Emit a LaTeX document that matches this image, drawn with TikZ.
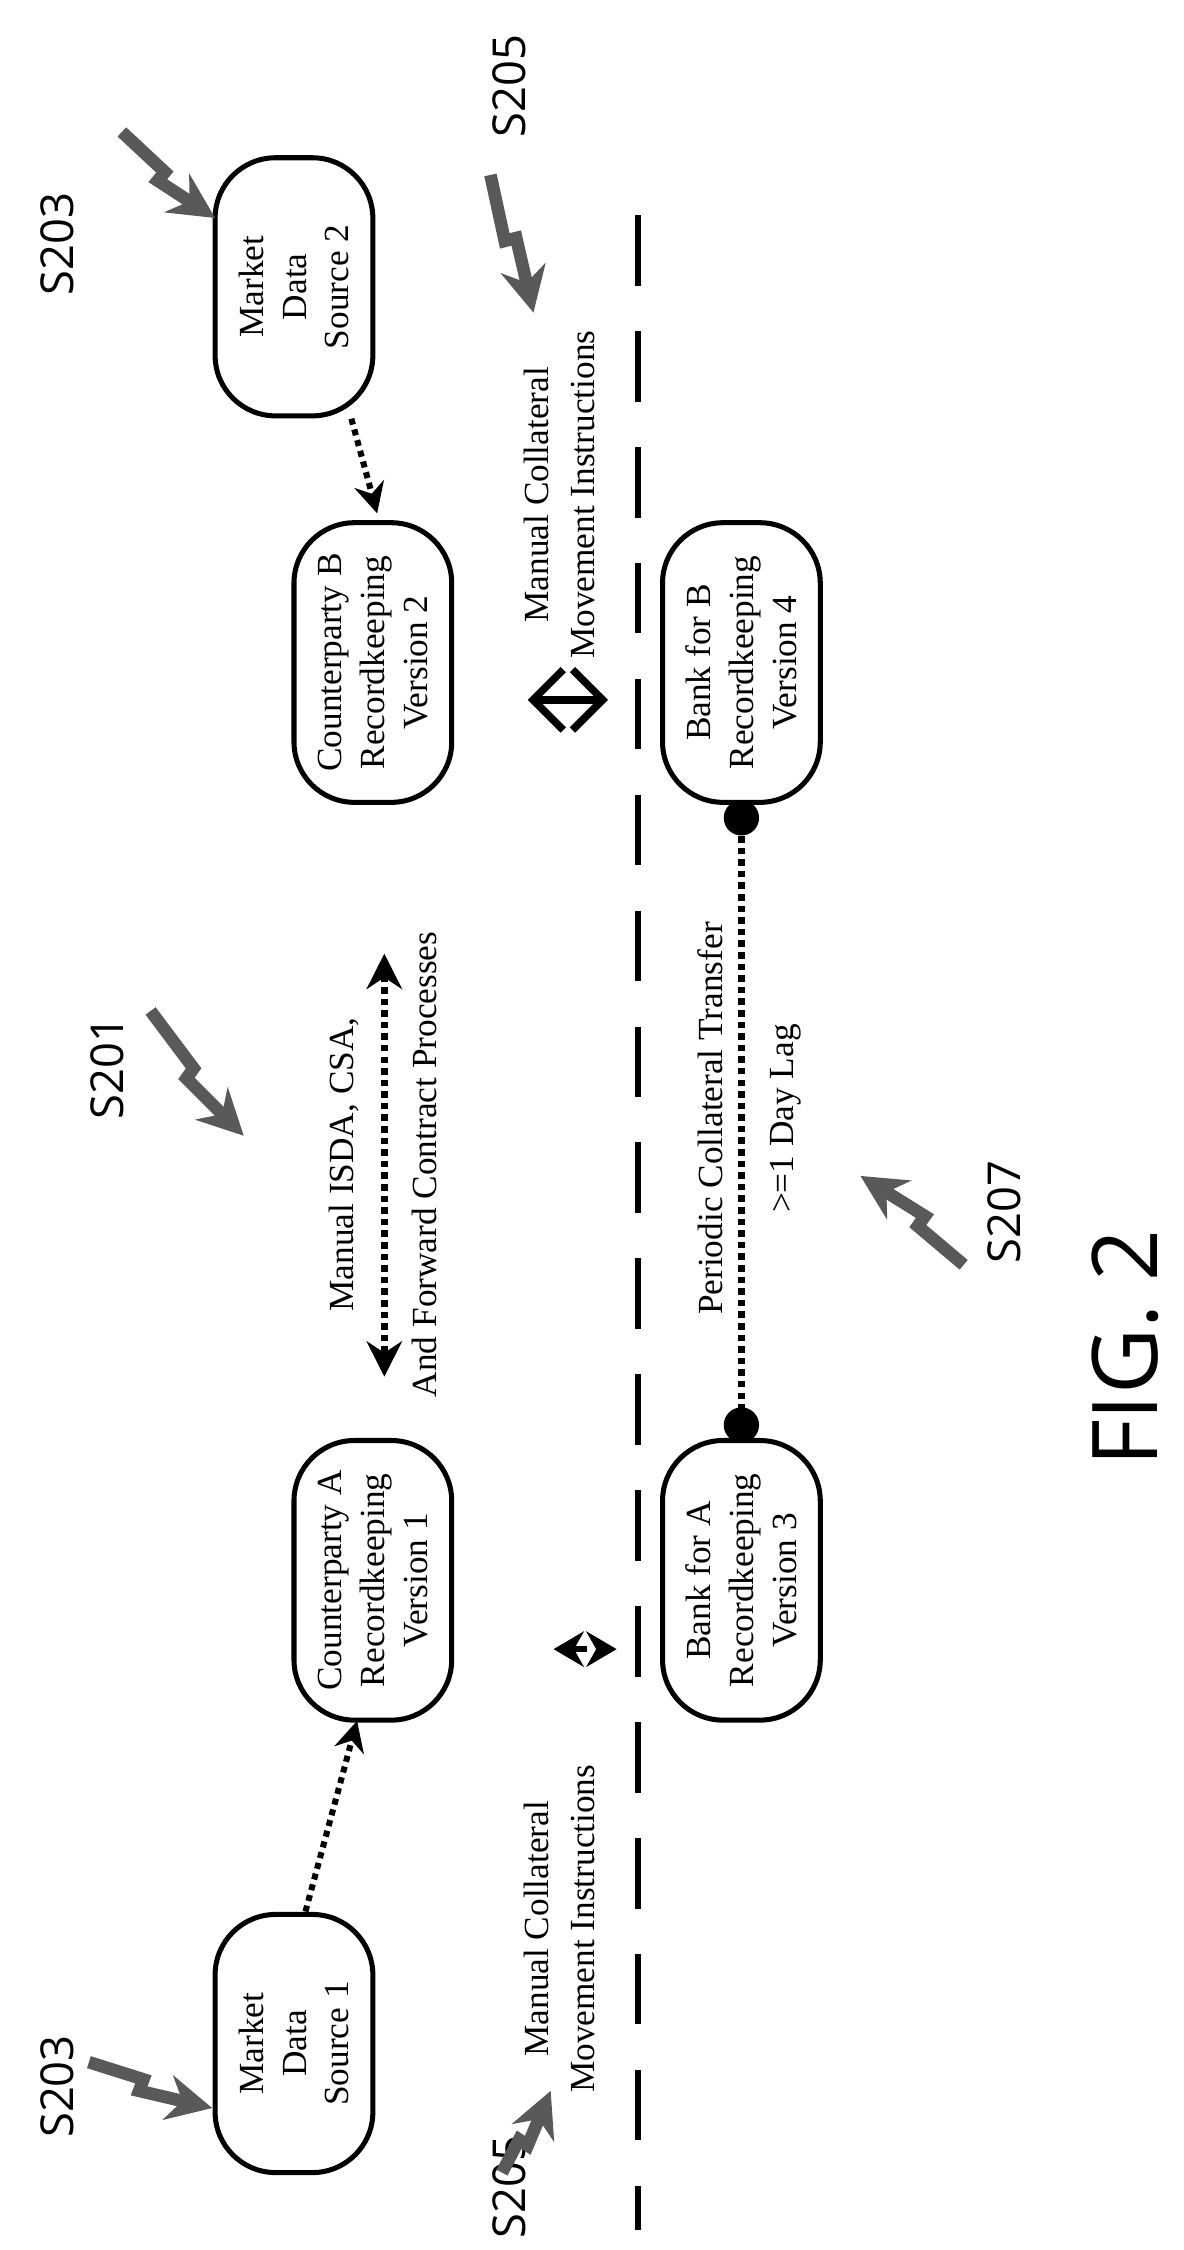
\documentclass[tikz,border=0pt]{standalone}
\usepackage{fontspec}
\setmainfont{Liberation Serif}
\setsansfont{Open Sans}
\usetikzlibrary{arrows,arrows.meta}
\begin{document}
\begin{tikzpicture}[x=0.1mm, y=-0.1mm, >=Stealth, semithick,
    box/.style={draw, rounded corners=12pt, rotate=90, align=center, line width=1pt,
      minimum width=19.5mm, minimum height=11mm, font=\fontsize{7}{8.5}\selectfont},
    mds/.style={box, minimum width=18mm},
    lbl/.style={rotate=90, align=center, font=\fontsize{7}{9}\selectfont},
    ref/.style={rotate=90, font=\sffamily\fontsize{9}{10}\selectfont},
    zap/.style={->, gray!70!black, line width=2.5pt, >={Stealth[length=9pt,width=9pt]}},
    dotarrow/.style={->, densely dotted, line width=1.2pt, >={Stealth[length=6pt,width=6pt]}}]
\useasboundingbox (0,0) rectangle (825,1569);
\draw[dashed, line width=1.3pt, dash pattern=on 14pt off 9pt] (445,150) -- (445,1555);
				\node[mds] (MDS1) at (205,1425) {Market\\Data\\Source 1};
				\node[box] (CPA)  at (260,1102) {Counterparty A\\Recordkeeping\\Version 1};
				\node[box] (BKA)  at (517,1102) {Bank for A\\Recordkeeping\\Version 3};
				\node[box] (BKB)  at (517,462)  {Bank for B\\Recordkeeping\\Version 4};
				\node[box] (CPB)  at (260,462)  {Counterparty B\\Recordkeeping\\Version 2};
				\node[mds] (MDS2) at (205,200)  {Market\\Data\\Source 2};

				\node[lbl] (ISDA1) at (240,812) {Manual ISDA, CSA,};
				\node[lbl] (ISDA2) at (296,812) {And Forward Contract Processes};
				\node[lbl] (MCL)  at (390,1345) {Manual Collateral\\Movement Instructions};
				\node[lbl] (MCR)  at (390,345)  {Manual Collateral\\Movement Instructions};
				\node[lbl] (PCT)  at (495,780) {Periodic Collateral Transfer};
				\node[lbl] (LAG)  at (548,780) {>=1 Day Lag};

				\node[ref] (S201) at (75,745) {S201};
				\node[ref] (S203a) at (40,170) {S203};
				\node[ref] (S203b) at (40,1455) {S203};
				\node[ref] (S205a) at (355,60) {S205};
				\node[ref] (S205b) at (355,1525) {S205};
				\node[ref] (S207) at (700,845) {S207};
				\node[rotate=90, font=\sffamily\fontsize{18}{20}\selectfont] (FIG) at (785,940) {FIG. 2};

				\coordinate (m1) at (213,1333);
				\coordinate (c1) at (249,1200);
				\coordinate (m2) at (245,292);
				\coordinate (c2) at (263,358);
				\coordinate (ISDAt) at (268,665);
				\coordinate (ISDAb) at (268,960);
				\coordinate (MAt) at (386,1150);
				\coordinate (MAb) at (430,1150);
				\coordinate (MBt) at (368,488);
				\coordinate (MBb) at (424,488);
				\coordinate (pa) at (517,1006);
				\coordinate (pb) at (517,558);

				\draw[dotarrow] (m1) -- (c1);
				\draw[dotarrow] (m2) -- (c2);
				\draw[<->, densely dotted, line width=1.3pt, >={Stealth[length=7pt,width=7pt]}] (ISDAt) -- (ISDAb);
				\draw[<->, dashed, line width=1.2pt, >={Stealth[length=6pt,width=7pt]}] (MAt) -- (MAb);
				\draw[{Straight Barb[length=6pt,width=12pt]}-{Straight Barb[length=6pt,width=12pt]}, line width=1.5pt] (MBt) -- (MBb);
				\draw[densely dotted, line width=1.3pt, {Circle[length=7pt]}-{Circle[length=7pt]}] (pa) -- (pb);

				\draw[zap] (105,705) -- (135,745) -- (130,752) -- (170,792);
				\draw[zap] (85,92) -- (115,120) -- (110,126) -- (150,152);
				\draw[zap] (62,1438) -- (100,1450) -- (97,1458) -- (148,1470);
				\draw[zap] (342,122) -- (352,168) -- (360,166) -- (372,218);
				\draw[zap] (350,1515) -- (362,1492) -- (368,1496) -- (384,1458);
				\draw[zap] (672,882) -- (640,855) -- (645,848) -- (600,820);
\end{tikzpicture}
\end{document}
